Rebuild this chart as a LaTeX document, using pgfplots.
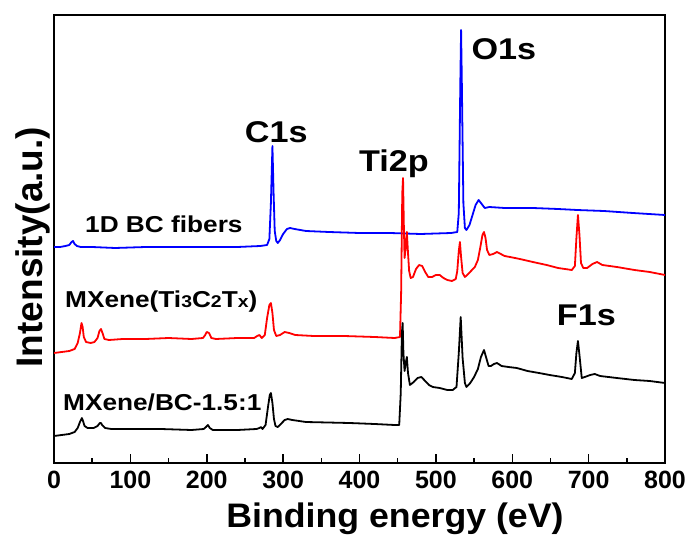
\documentclass[border=0pt]{standalone}
\usepackage{fontspec}
\setmainfont{Liberation Sans}
\newfontfamily\lblA[FakeStretch=1.05]{Liberation Sans}
\newfontfamily\lblB[FakeStretch=1.14]{Liberation Sans}
\usepackage{pgfplots}
\pgfplotsset{compat=1.18}

\begin{document}
\begin{tikzpicture}
\begin{axis}[
    width=611pt, height=448pt,
    scale only axis,
    xmin=0, xmax=800,
    ymin=0, ymax=448,
    xtick={0,100,...,800},
    minor x tick num=1,
    ytick=\empty,
    xtick pos=left,
    tick align=inside,
    major tick length=9pt,
    minor tick length=5pt,
    every tick/.style={black, line width=1.5pt},
    axis line style={line width=2pt},
    /pgf/number format/assume math mode=true,
    xticklabel style={font=\fontsize{25}{25}\selectfont\bfseries, yshift=-5pt},
    xlabel={Binding energy (eV)},
    xlabel style={font=\lblA\fontsize{34}{34}\selectfont\bfseries,
        at={(axis description cs:0.558,0)}, anchor=base, yshift=-64pt},
    ylabel={Intensity(a.u.)},
    ylabel style={font=\fontsize{37}{37}\selectfont\bfseries,
        at={(axis description cs:-0.0196,0.482)}, anchor=base},
    every axis plot/.append style={line width=1.8pt, line join=round},
]
% 1D BC fibers
\addplot[blue] coordinates {
(0,216) (8,216) (15,217) (20,218) (23,221) (25,222) (27,219) (30,217) (35,216)
(50,216) (80,215) (120,216) (160,216) (200,216) (240,216) (270,217) (279,218)
(282,224) (284,260) (286,317) (287.5,270) (289,232) (291,222) (293,220) (296,223)
(300,229) (305,234) (309,235) (315,234) (330,232) (360,231) (400,230) (440,230)
(480,229) (520,230) (528,231) (530,250) (532,380) (533,433) (534,380) (536,260)
(538,235) (540,233) (544,238) (548,248) (552,258) (556,263) (560,259) (564,255)
(570,256) (590,255) (627,255) (660,254) (685,253) (720,252) (758,250) (800,248)
};
% MXene
\addplot[red] coordinates {
(0,110) (10,111) (20,112) (27,114) (31,120) (34,130) (36,140) (37.5,136) (39,126)
(42,121) (48,120) (53,121) (57,125) (59.5,132) (61.5,134) (63.5,130) (66,124)
(72,123) (90,124) (120,124) (150,125) (180,124) (195,125) (198,128) (200,131)
(203,130) (206,125) (212,124) (240,125) (262,125) (266,127) (269,128) (272,125)
(276,128) (279,145) (282,158) (284,160) (286,150) (288,133) (291,127) (296,128)
(302,131) (308,130) (316,128) (340,127) (380,127) (420,126) (446,125) (453,126)
(454.5,170) (456,270) (457,285) (458,240) (459,205) (460.5,215) (462,231)
(463.5,210) (465,192) (467,185) (470,186) (474,194) (478,198) (482,197) (486,191)
(490,186) (495,186) (500,188) (505,188) (510,185) (515,183) (521,182) (526,184)
(528,192) (530,212) (531.5,221) (533,206) (535,190) (538,186) (541,188) (546,192)
(551,196) (555,203) (558,215) (561,228) (563,231) (565,225) (567,213) (570,208)
(575,209) (580,211) (585,209) (590,207) (597,206) (610,204) (627,201) (645,198)
(660,195) (678,193) (682,197) (684,225) (686,248) (688,228) (690,200) (693,195)
(698,195) (705,199) (711,201) (718,198) (737,196) (760,193) (780,191) (800,188)
};
% MXene/BC-1.5:1
\addplot[black] coordinates {
(0,27) (10,28) (20,29) (27,31) (31,35) (34,41) (36.5,45) (38,42) (40,37) (44,35)
(52,35) (57,37) (60,40) (61.5,40) (63,38) (67,35) (75,34) (100,34) (140,34)
(180,33) (196,34) (199,36) (201.5,38) (204,35) (208,33) (240,33) (265,34) (269,35)
(271,36) (273,34) (277,38) (280,55) (282.5,68) (284,70) (286,60) (288,44) (290,37)
(293,36) (297,39) (302,43) (306,44) (312,43) (330,41) (387,40) (420,39) (446,38)
(452,38) (454,70) (455.5,130) (456.5,140) (457.5,110) (459,92) (460.5,100)
(462,106) (463.5,90) (466,78) (471,81) (476,85) (481,86) (486,82) (491,78) (496,76)
(505,75) (515,73) (522,73) (527,76) (530,110) (532.5,146) (535,105) (538,80)
(540,76) (545,80) (550,86) (555,94) (559,106) (563,113) (566,105) (569,97) (572,97)
(576,99) (580,100) (586,97) (595,96) (606,95) (620,92) (635,90) (649,88) (665,86)
(678,84) (682,90) (684,110) (686,122) (688,108) (691,85) (695,86) (702,88)
(708,89) (715,87) (737,85) (760,83) (780,82) (800,80)
};
\node[anchor=base, font=\lblB\fontsize{30}{30}\selectfont\bfseries] at (axis cs:291,320) {C1s};
\node[anchor=base, font=\lblB\fontsize{30}{30}\selectfont\bfseries] at (axis cs:589,403) {O1s};
\node[anchor=base, font=\lblB\fontsize{30}{30}\selectfont\bfseries] at (axis cs:445,291) {Ti2p};
\node[anchor=base, font=\lblB\fontsize{30}{30}\selectfont\bfseries] at (axis cs:697,138) {F1s};
\node[anchor=base west, inner sep=0pt, font=\lblB\fontsize{23}{23}\selectfont\bfseries] at (axis cs:40.6,230) {1D BC fibers};
\node[anchor=base west, inner sep=0pt, font=\lblB\fontsize{23}{23}\selectfont\bfseries] at (axis cs:14.4,156)
  {MXene(Ti{\fontsize{17}{17}\selectfont 3}C{\fontsize{17}{17}\selectfont 2}T{\fontsize{17}{17}\selectfont x})};
\node[anchor=base west, inner sep=0pt, font=\lblB\fontsize{23}{23}\selectfont\bfseries] at (axis cs:11.8,53) {MXene/BC-1.5:1};
\end{axis}
\pgfresetboundingbox
\path[use as bounding box] ([shift={(-54pt,-75pt)}]current axis.south west)
  rectangle ([shift={(27pt,15pt)}]current axis.north east);
\end{tikzpicture}
\end{document}
